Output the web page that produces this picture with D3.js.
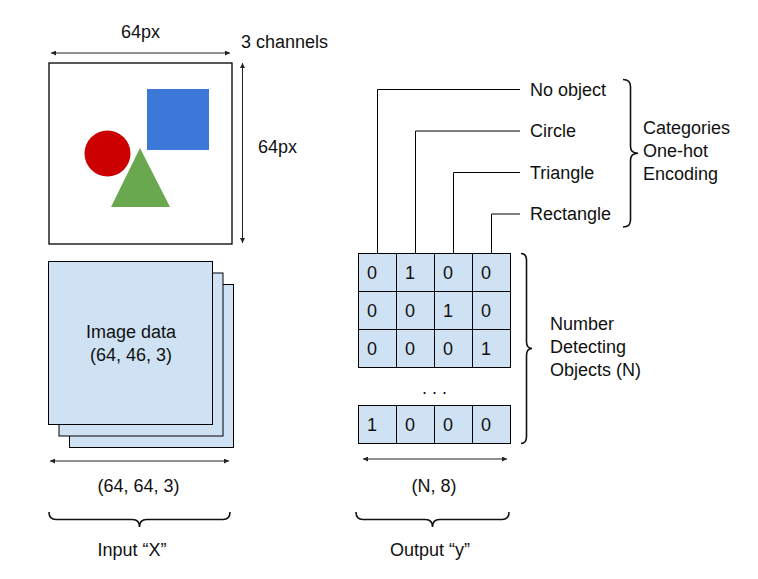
<!DOCTYPE html>
<html lang="en">
<head>
  <meta charset="UTF-8">
  <title>Object detection input / output</title>
  <script src="https://cdn.jsdelivr.net/npm/d3@7"></script>
  <style>
    body { margin: 0; background: #fff; }
    text { font-family: "Liberation Sans", Arial, sans-serif; font-size: 18px; fill: #111; }
  </style>
</head>
<body>
  <div id="chart"></div>
  <script>
    // diagram content
    const categories = ["No object", "Circle", "Triangle", "Rectangle"];
    const oneHotRows = [[0, 1, 0, 0], [0, 0, 1, 0], [0, 0, 0, 1], [1, 0, 0, 0]];
    const rowSlots = [0, 1, 2, 4];          // slot 3 is the "..." gap
    const stackLayers = [2, 1, 0];          // back to front
    const imageLabel = ["Image data", "(64, 46, 3)"];
    const categoryLabel = ["Categories", "One-hot", "Encoding"];
    const countLabel = ["Number", "Detecting", "Objects (N)"];
    const widthLabel = "64px";
    const heightLabel = "64px";
    const channelLabel = "3 channels";
    const inputShape = "(64, 64, 3)";
    const outputShape = "(N, 8)";
    const inputName = "Input \u201cX\u201d";
    const outputName = "Output \u201cy\u201d";

    const W = 758, H = 579;
    const svg = d3.select("#chart").append("svg")
      .attr("width", W)
      .attr("height", H);

    // arrow heads
    const defs = svg.append("defs");
    ["start", "end"].forEach(k => {
      defs.append("marker")
        .attr("id", "arr-" + k)
        .attr("viewBox", "0 0 10 10")
        .attr("refX", k === "end" ? 10 : 0).attr("refY", 5)
        .attr("markerWidth", 7).attr("markerHeight", 5)
        .attr("markerUnits", "userSpaceOnUse")
        .attr("orient", "auto")
        .append("path")
          .attr("d", k === "end" ? "M0,0L10,5L0,10Z" : "M10,0L0,5L10,10Z")
          .attr("fill", "#222");
    });

    function arrow(x1, y1, x2, y2) {
      svg.append("line")
        .attr("x1", x1).attr("y1", y1).attr("x2", x2).attr("y2", y2)
        .attr("stroke", "#222").attr("stroke-width", 1)
        .attr("marker-start", "url(#arr-start)")
        .attr("marker-end", "url(#arr-end)");
    }

    // curly brace; vertical ones point right, horizontal ones point down
    function brace(a1, a2, b, depth, vertical) {
      const m = (a1 + a2) / 2, h = depth / 2, q = 7;
      const p = vertical
        ? `M${b},${a1}Q${b + h},${a1} ${b + h},${a1 + q}L${b + h},${m - q}Q${b + h},${m} ${b + depth},${m}` +
          `Q${b + h},${m} ${b + h},${m + q}L${b + h},${a2 - q}Q${b + h},${a2} ${b},${a2}`
        : `M${a1},${b}Q${a1},${b + h} ${a1 + q},${b + h}L${m - q},${b + h}Q${m},${b + h} ${m},${b + depth}` +
          `Q${m},${b + h} ${m + q},${b + h}L${a2 - q},${b + h}Q${a2},${b + h} ${a2},${b}`;
      svg.append("path").attr("d", p)
        .attr("fill", "none").attr("stroke", "#111").attr("stroke-width", 1.6);
    }

    function lines(list, x, y, anchor) {
      const t = svg.append("text").attr("text-anchor", anchor || "start");
      t.selectAll("tspan").data(list).join("tspan")
        .attr("x", x)
        .attr("y", (d, i) => y + i * 23)
        .text(d => d);
    }

    // ---- input image ----
    const img = { x: 49, y: 63, w: 183, h: 181 };
    svg.append("rect")
      .attr("x", img.x).attr("y", img.y).attr("width", img.w).attr("height", img.h)
      .attr("fill", "#fff").attr("stroke", "#000").attr("stroke-width", 1.3);
    svg.append("rect")
      .attr("x", 147).attr("y", 89).attr("width", 62).attr("height", 61)
      .attr("fill", "#3c78d8");
    svg.append("circle")
      .attr("cx", 107.5).attr("cy", 153.5).attr("r", 23)
      .attr("fill", "#cc0000");
    svg.append("path")
      .attr("d", d3.line()([[140, 148], [170, 207], [111, 207]]) + "Z")
      .attr("fill", "#6aa84f");

    arrow(51, 53, 230, 53);
    arrow(242.5, 63, 242.5, 243);
    svg.append("text").attr("x", 140.5).attr("y", 38).attr("text-anchor", "middle").text(widthLabel);
    svg.append("text").attr("x", 241).attr("y", 48).text(channelLabel);
    svg.append("text").attr("x", 258).attr("y", 153).text(heightLabel);

    // ---- stacked image data ----
    const stackX = d3.scaleLinear().domain([0, 1]).range([48.5, 59]);
    const stackY = d3.scaleLinear().domain([0, 1]).range([261.5, 273]);
    svg.selectAll("rect.layer").data(stackLayers).join("rect")
      .attr("class", "layer")
      .attr("x", d => stackX(d)).attr("y", d => stackY(d))
      .attr("width", 164).attr("height", 163)
      .attr("fill", "#cfe2f3").attr("stroke", "#000").attr("stroke-width", 1);
    lines(imageLabel, 131, 338, "middle");

    arrow(50, 461, 229, 461);
    svg.append("text").attr("x", 138.5).attr("y", 492).attr("text-anchor", "middle").text(inputShape);
    brace(49, 230, 512, 15, false);
    svg.append("text").attr("x", 132).attr("y", 556).attr("text-anchor", "middle").text(inputName);

    // ---- one-hot output grid ----
    const x = d3.scaleBand().domain(d3.range(categories.length)).range([358.5, 510.5]);
    const y = d3.scaleLinear().domain([0, 1]).range([253.5, 291.5]);
    const labelY = d3.scalePoint().domain(categories).range([89.5, 214]);
    const bw = x.bandwidth();

    // connector lines from column tops to category labels
    svg.selectAll("path.conn").data(categories).join("path")
      .attr("class", "conn")
      .attr("d", (d, i) => `M${x(i) + bw / 2},${y(0)}V${labelY(d)}H520`)
      .attr("fill", "none").attr("stroke", "#000").attr("stroke-width", 1);
    svg.selectAll("text.cat").data(categories).join("text")
      .attr("class", "cat")
      .attr("x", 530).attr("y", d => labelY(d) + 6)
      .text(d => d);

    const cells = oneHotRows.flatMap((row, r) => row.map((v, c) => ({ r: rowSlots[r], c, v })));
    const cell = svg.selectAll("g.cell").data(cells).join("g").attr("class", "cell");
    cell.append("rect")
      .attr("x", d => x(d.c)).attr("y", d => y(d.r))
      .attr("width", bw).attr("height", y(1) - y(0))
      .attr("fill", "#cfe2f3").attr("stroke", "#000").attr("stroke-width", 1);
    cell.append("text")
      .attr("x", d => x(d.c) + 8.5).attr("y", d => y(d.r) + 25)
      .text(d => d.v);

    svg.append("text")
      .attr("x", (x(0) + x(3) + bw) / 2).attr("y", y(3) + 26)
      .attr("text-anchor", "middle")
      .text(". . .");

    brace(labelY(categories[0]) - 10, labelY(categories[3]) + 13, 623, 15, true);
    lines(categoryLabel, 643, 134);

    brace(y(0), y(5), 521, 11, true);
    lines(countLabel, 550, 330);

    arrow(363, 459, 507, 459);
    svg.append("text").attr("x", 434).attr("y", 492).attr("text-anchor", "middle").text(outputShape);
    brace(356, 509, 512, 15, false);
    svg.append("text").attr("x", 430).attr("y", 556).attr("text-anchor", "middle").text(outputName);
  </script>
</body>
</html>
